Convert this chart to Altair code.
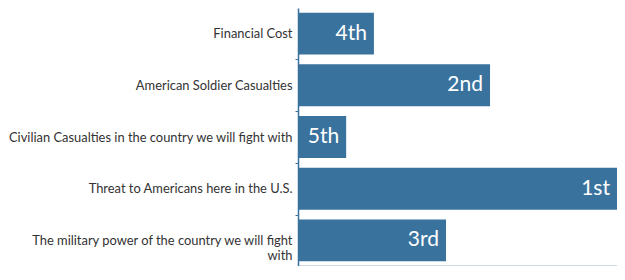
import altair as alt
import pandas as pd

categories = [
    "Financial Cost",
    "American Soldier Casualties",
    "Civilian Casualties in the country we will fight with",
    "Threat to Americans here in the U.S.",
    "The military power of the country we will fight with",
]
scores = [23.8, 60.2, 15.1, 100.0, 46.4]
rank_labels = ["4th", "2nd", "5th", "1st", "3rd"]

df = pd.DataFrame({"category": categories, "score": scores, "rank": rank_labels})

BLUE = "#3a729e"

wrap_expr = (
    "datum.value == 'The military power of the country we will fight with' "
    "? ['The military power of the country we will fight', 'with'] : datum.value"
)

y_enc = alt.Y(
    "category:N",
    sort=categories,
    title=None,
    scale=alt.Scale(paddingInner=0.19, paddingOuter=0.09),
    axis=alt.Axis(
        labelExpr=wrap_expr,
        labelFont="Lato",
        labelFontSize=12.9,
        labelColor="#333333",
        labelPadding=3,
        labelLimit=400,
        domainColor=BLUE,
        domainWidth=1.5,
        tickColor=BLUE,
        tickSize=3,
        tickOffset=25.8,
        labelOffset=-25.8,
        labelLineHeight=15,
    ),
)

x_enc = alt.X(
    "score:Q",
    title=None,
    scale=alt.Scale(domain=[0, 100], nice=False),
    axis=alt.Axis(labels=False, ticks=False, grid=False, domainColor=BLUE, domainWidth=1.5),
)

bars = alt.Chart(df).mark_bar(color=BLUE).encode(x=x_enc, y=y_enc)

text = alt.Chart(df).mark_text(
    align="right", baseline="middle", dx=-7, color="white", font="Lato", fontSize=21
).encode(x="score:Q", y=alt.Y("category:N", sort=categories), text="rank:N")

chart = (
    alt.layer(bars, text)
    .properties(
        width=319,
        height=258,
        autosize=alt.AutoSizeParams(type="none"),
        padding={"left": 290, "top": 0, "right": 0, "bottom": 0},
    )
    .configure_view(stroke=None)
)

chart.save("out.html", embed_options={"renderer": "svg", "actions": False})
